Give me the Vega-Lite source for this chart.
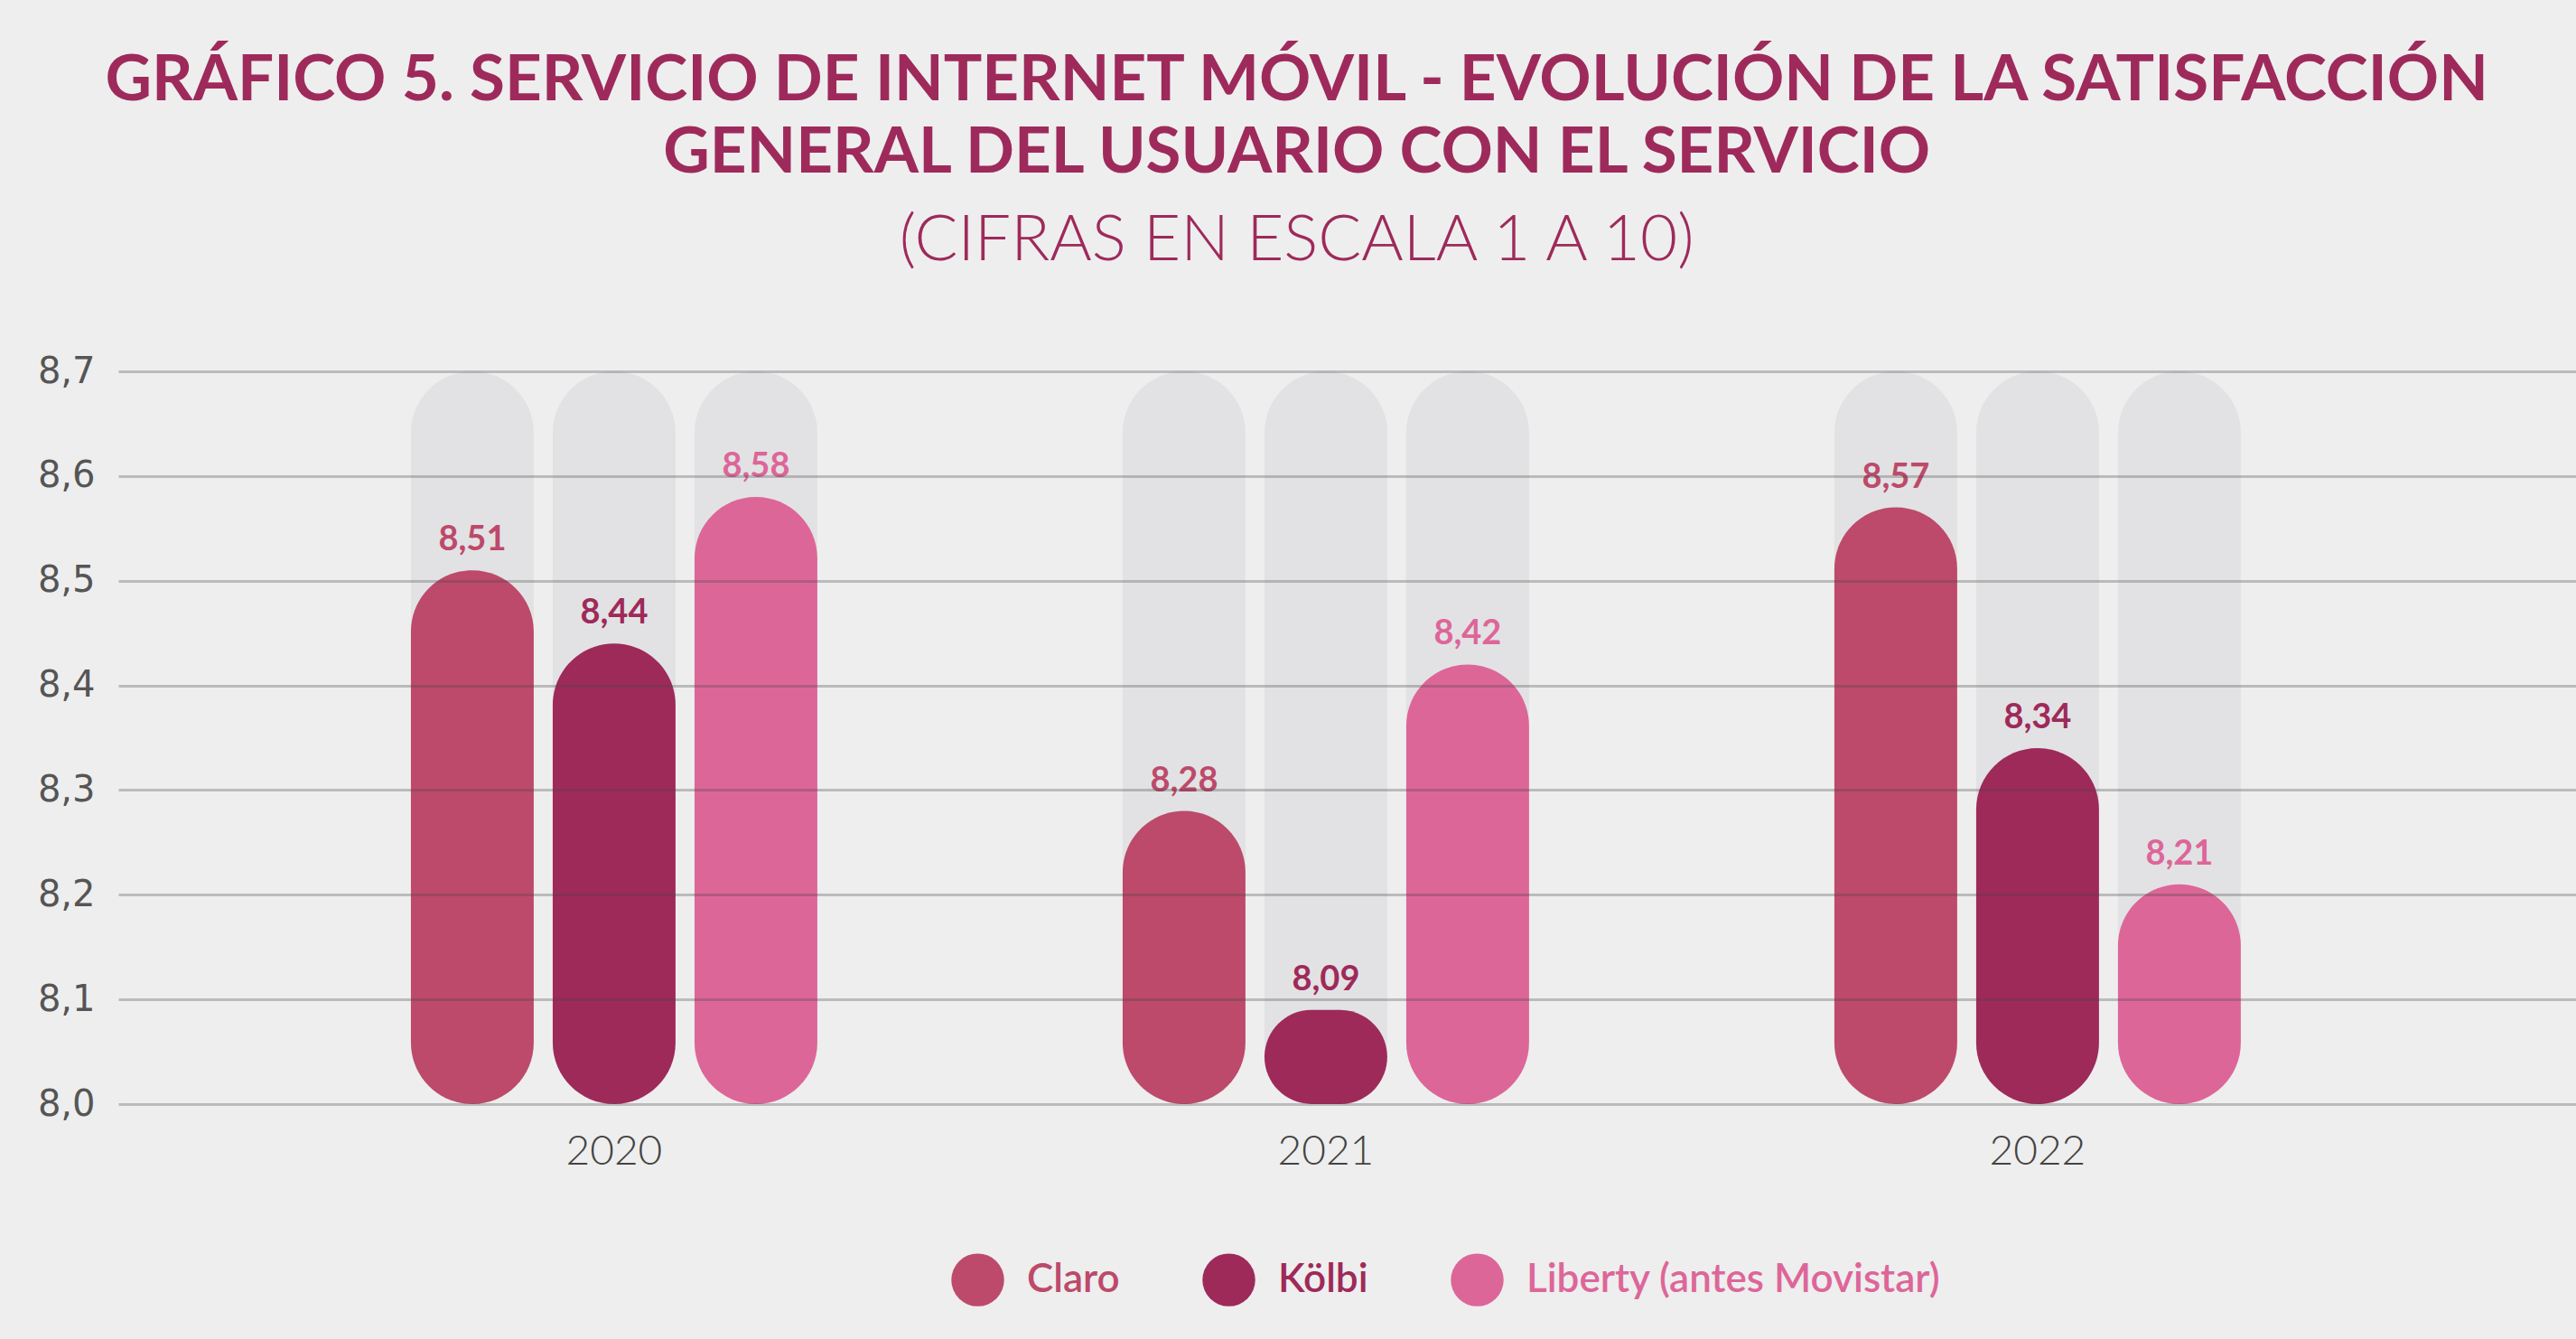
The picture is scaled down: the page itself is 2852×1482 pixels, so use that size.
{
  "$schema": "https://vega.github.io/schema/vega-lite/v6.json",
  "width": 2721,
  "height": 811,
  "autosize": {"type": "none"},
  "padding": {"left": 131, "top": 411, "right": 0, "bottom": 260},
  "background": "#eeeeee",
  "title": {
    "text": ["GRÁFICO 5. SERVICIO DE INTERNET MÓVIL - EVOLUCIÓN DE LA SATISFACCIÓN", "GENERAL DEL USUARIO CON EL SERVICIO"],
    "subtitle": "(CIFRAS EN ESCALA 1 A 10)",
    "font": "Lato",
    "fontSize": 71,
    "fontWeight": "bold",
    "color": "#9e2a5b",
    "lineHeight": 80,
    "subtitleFont": "Lato",
    "subtitleFontSize": 71,
    "subtitleFontWeight": 300,
    "subtitleColor": "#9e2a5b",
    "subtitlePadding": 26,
    "anchor": "middle",
    "frame": "bounds",
    "offset": 88,
    "dx": -11
  },
  "data": {
    "values": [
      {"year": "2020", "company": "Claro", "value": 8.51},
      {"year": "2020", "company": "Kölbi", "value": 8.44},
      {"year": "2020", "company": "Liberty (antes Movistar)", "value": 8.58},
      {"year": "2021", "company": "Claro", "value": 8.28},
      {"year": "2021", "company": "Kölbi", "value": 8.09},
      {"year": "2021", "company": "Liberty (antes Movistar)", "value": 8.42},
      {"year": "2022", "company": "Claro", "value": 8.57},
      {"year": "2022", "company": "Kölbi", "value": 8.34},
      {"year": "2022", "company": "Liberty (antes Movistar)", "value": 8.21}
    ]
  },
  "encoding": {
    "x": {
      "field": "year",
      "type": "nominal",
      "scale": {"paddingInner": 0.4023, "paddingOuter": 0.4277, "align": 0.465},
      "axis": {
        "title": null,
        "domain": false,
        "ticks": false,
        "labelAngle": 0,
        "labelFont": "Lato",
        "labelFontSize": 46,
        "labelFontWeight": 300,
        "labelColor": "#444444",
        "labelPadding": 30
      }
    },
    "xOffset": {
      "field": "company",
      "type": "nominal",
      "scale": {"paddingInner": 0.134, "paddingOuter": 0.067}
    }
  },
  "layer": [
    {
      "mark": {"type": "bar", "color": "#c8c8cc", "opacity": 0.3, "cornerRadius": 68},
      "encoding": {
        "y": {"datum": 8.7, "type": "quantitative"},
        "y2": {"datum": 8}
      }
    },
    {
      "mark": {"type": "bar", "cornerRadius": 68},
      "encoding": {
        "y": {
          "field": "value",
          "type": "quantitative",
          "scale": {"domain": [8, 8.7], "zero": false, "nice": false},
          "axis": {
            "title": null,
            "domain": false,
            "ticks": false,
            "values": [8, 8.1, 8.2, 8.3, 8.4, 8.5, 8.6, 8.7],
            "format": ".1f",
            "labelFont": "DejaVu Sans",
            "labelFontSize": 40,
            "labelColor": "#555555",
            "labelPadding": 26,
            "grid": true,
            "gridColor": "#444444",
            "gridOpacity": 0.3,
            "gridWidth": 3,
            "zindex": 1
          }
        },
        "y2": {"datum": 8},
        "color": {
          "field": "company",
          "type": "nominal",
          "scale": {
            "domain": ["Claro", "Kölbi", "Liberty (antes Movistar)"],
            "range": ["#bd4a6a", "#9e2a5a", "#dd6699"]
          },
          "legend": {
            "orient": "none",
            "legendX": 922,
            "legendY": 976,
            "direction": "horizontal",
            "title": null,
            "symbolType": "circle",
            "symbolSize": 3420,
            "symbolOpacity": 1,
            "symbolStrokeWidth": 0,
            "labelFont": "Lato",
            "labelFontSize": 44,
            "labelFontWeight": 600,
            "labelOffset": 25,
            "labelLimit": 0,
            "columnPadding": 91,
            "encode": {"labels": {"update": {"fill": {"scale": "color", "field": "value"}}}}
          }
        }
      }
    },
    {
      "mark": {"type": "text", "font": "Lato", "fontSize": 38, "fontWeight": "bold", "baseline": "alphabetic", "dy": -22},
      "encoding": {
        "y": {"field": "value", "type": "quantitative"},
        "text": {"field": "value", "type": "quantitative", "format": ".2f"},
        "color": {"field": "company", "type": "nominal", "legend": null}
      }
    }
  ],
  "config": {
    "locale": {"number": {"decimal": ",", "thousands": ".", "grouping": [3], "currency": ["", " €"]}},
    "view": {"stroke": null}
  }
}
